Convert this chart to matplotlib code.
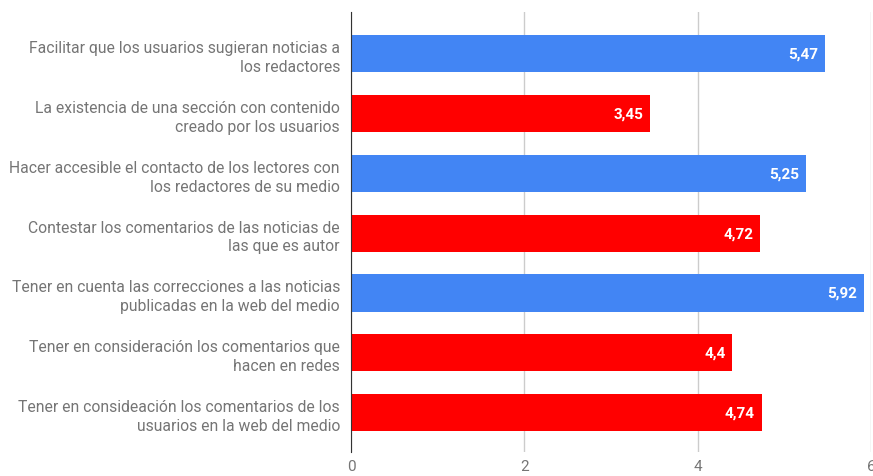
import matplotlib
matplotlib.use("Agg")
import matplotlib.pyplot as plt

categorias = [
    "Facilitar que los usuarios sugieran noticias a\nlos redactores",
    "La existencia de una sección con contenido\ncreado por los usuarios",
    "Hacer accesible el contacto de los lectores con\nlos redactores de su medio",
    "Contestar los comentarios de las noticias de\nlas que es autor",
    "Tener en cuenta las correcciones a las noticias\npublicadas en la web del medio",
    "Tener en consideración los comentarios que\nhacen en redes",
    "Tener en consideación los comentarios de los\nusuarios en la web del medio",
]
valores = [5.47, 3.45, 5.25, 4.72, 5.92, 4.4, 4.74]
etiquetas = ["5,47", "3,45", "5,25", "4,72", "5,92", "4,4", "4,74"]
colores = ["#4285f4", "#ff0000", "#4285f4", "#ff0000", "#4285f4", "#ff0000", "#ff0000"]
xticks = [0, 2, 4, 6]

plt.rcParams["font.family"] = ["Roboto", "DejaVu Sans"]

fig = plt.figure(figsize=(8.73, 4.77), dpi=100)
ax = fig.add_axes([351 / 873, 1 - 453 / 477, 520 / 873, 440 / 477])

pos = list(range(len(categorias)))
ax.barh(pos, valores, height=0.62, color=colores, zorder=3)
for y, v, t in zip(pos, valores, etiquetas):
    ax.text(v - 0.08, y, t, ha="right", va="center", color="white",
            fontsize=11, fontweight="bold", zorder=4)

ax.set_xlim(0, 6)
ax.set_ylim(6.66, -0.70)
ax.set_xticks(xticks)
ax.set_xticklabels([str(x) for x in xticks], color="#757575", fontsize=11)
ax.tick_params(axis="x", length=0, pad=5)
ax.set_yticks(pos)
ax.set_yticklabels(categorias, color="#757575", fontsize=11.3, linespacing=1.3,
                   ha="right")
ax.tick_params(axis="y", length=0, pad=8)

for s in ["top", "right", "bottom"]:
    ax.spines[s].set_visible(False)
ax.spines["left"].set_color("#333333")
ax.spines["left"].set_zorder(5)
ax.grid(axis="x", color="#cccccc", linewidth=1, zorder=0)
ax.set_axisbelow(True)

fig.savefig("out.png", dpi=100)
